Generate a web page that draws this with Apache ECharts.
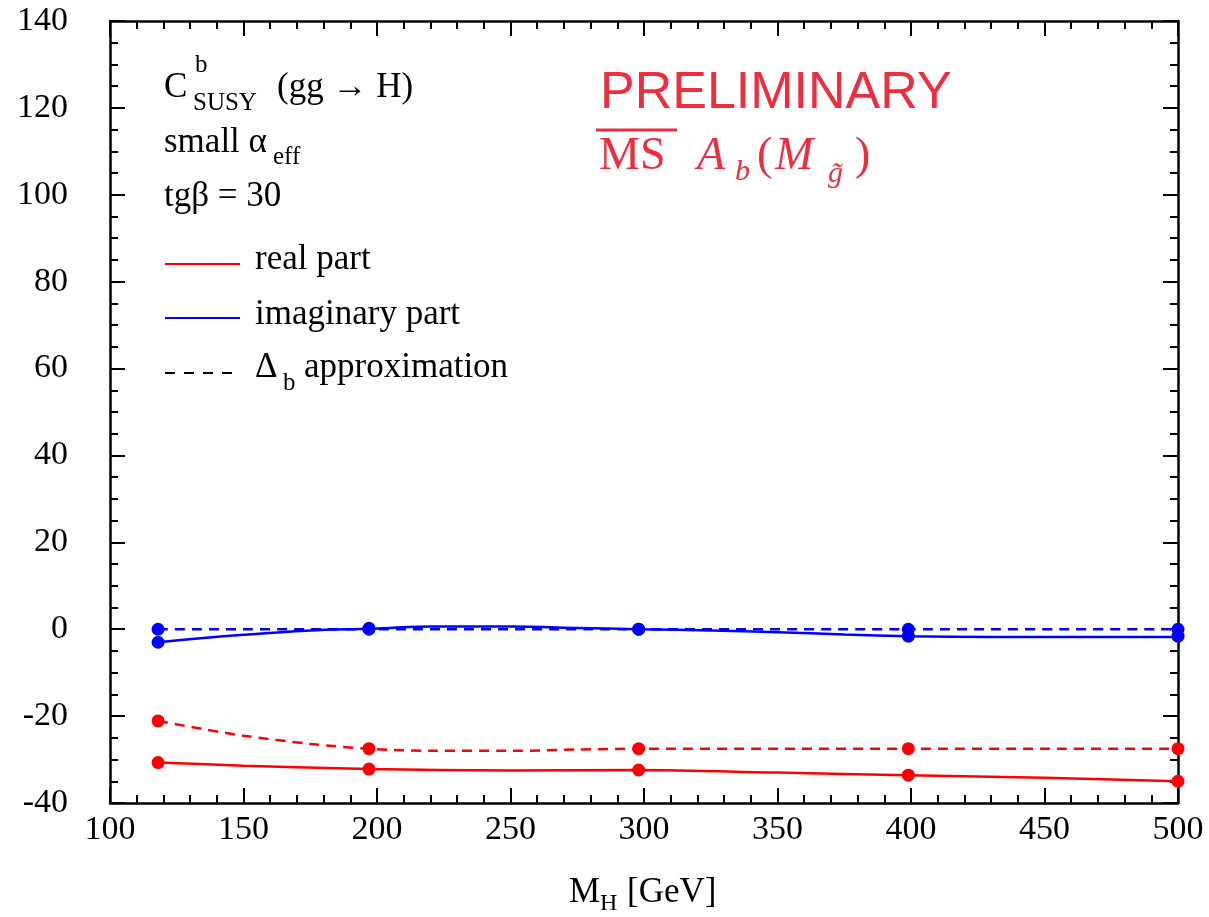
<!DOCTYPE html>
<html>
<head>
<meta charset="utf-8">
<script src="https://cdn.jsdelivr.net/npm/echarts@6/dist/echarts.min.js"></script>
<style>
  html, body { margin: 0; padding: 0; background: #fff; }
  #chart { width: 1209px; height: 917px; }
</style>
</head>
<body>
<div id="chart"></div>
<script>
// Higgs masses where points were computed
var mhPoints = [118, 197, 298, 399, 500];
// read-off values of the curves (M_H, value)
var realCurve = [[118, -30.7], [150, -31.4], [197, -32.2], [250, -32.5], [298, -32.4], [350, -33.0], [399, -33.6], [450, -34.2], [500, -35.0]];
var realDeltaCurve = [[118, -21.1], [135, -23.0], [150, -24.5], [175, -26.4], [197, -27.5], [220, -28.0], [250, -28.0], [275, -27.7], [298, -27.5], [350, -27.5], [399, -27.5], [450, -27.5], [500, -27.5]];
var imagCurve = [[118, -3.0], [135, -2.0], [150, -1.3], [175, -0.3], [197, 0.1], [220, 0.6], [250, 0.6], [275, 0.3], [298, 0.0], [325, -0.3], [350, -0.7], [375, -1.2], [399, -1.6], [430, -1.8], [460, -1.8], [500, -1.8]];
var imagDeltaCurve = [[118, 0], [197, 0], [298, 0], [399, 0], [500, 0]];
// values at the marked points
var realPts = [-30.7, -32.2, -32.4, -33.6, -35.0];
var realDeltaPts = [-21.1, -27.5, -27.5, -27.5, -27.5];
var imagPts = [-3.0, 0.2, 0.0, -1.6, -1.6];
var imagDeltaPts = [0, 0, 0, 0, 0];

var RED = '#ff0000', BLUE = '#0000ff', TXT = '#ee2e3e';
var SERIF = '"Liberation Serif", "DejaVu Serif", serif';

function pts(vals) {
  return mhPoints.map(function (m, i) { return [m, vals[i]]; });
}
function curve(name, data, color, type) {
  return {
    name: name, type: 'line', data: data, smooth: 0.3, showSymbol: false,
    lineStyle: { color: color, width: 2.5, type: type }, z: 3
  };
}
function marks(data, color) {
  return {
    type: 'scatter', data: pts(data), symbolSize: 13,
    itemStyle: { color: color, opacity: 1 }, z: 4
  };
}
function txt(text, x, y, size, color, extra) {
  var st = { text: text, x: x, y: y, font: (extra && extra.style ? extra.style + ' ' : '') + size + 'px ' + (extra && extra.family ? extra.family : SERIF), fill: color || '#000', verticalAlign: 'middle', align: 'left' };
  return { type: 'text', style: st, z: 10 };
}
function seg(x1, x2, y, color, dash, w) {
  return { type: 'line', shape: { x1: x1, y1: y, x2: x2, y2: y }, style: { stroke: color, lineWidth: w || 2, lineDash: dash || null }, z: 10 };
}

function axis(extra) {
  var tickStyle = { color: '#000', width: 2 };
  var a = {
    type: 'value',
    axisLine: { show: true, onZero: false, lineStyle: { color: '#000', width: 2.5 } },
    axisTick: { inside: true, length: 15, lineStyle: tickStyle },
    minorTick: { show: true, length: 8, lineStyle: tickStyle },
    axisLabel: { show: false },
    splitLine: { show: false }
  };
  for (var k in extra) a[k] = extra[k];
  a.minorTick.splitNumber = extra.minorSplit;
  return a;
}
var xLabel = { color: '#000', fontFamily: SERIF, fontSize: 34, margin: 10 };
var yLabel = { color: '#000', fontFamily: SERIF, fontSize: 34, margin: 42 };

var chart = echarts.init(document.getElementById('chart'));
chart.setOption({
  animation: false,
  grid: { left: 110, top: 21, right: 31, bottom: 114 },
  xAxis: [
    axis({ position: 'bottom', min: 100, max: 500, interval: 50, minorSplit: 5, axisLabel: xLabel }),
    axis({ position: 'top', min: 100, max: 500, interval: 50, minorSplit: 5 })
  ],
  yAxis: [
    axis({ position: 'left', min: -40, max: 140, interval: 20, minorSplit: 4, axisLabel: yLabel }),
    axis({ position: 'right', min: -40, max: 140, interval: 20, minorSplit: 4 })
  ],
  series: [
    curve('real part', realCurve, RED, 'solid'),
    curve('real part Δb', realDeltaCurve, RED, [10, 7]),
    curve('imaginary part', imagCurve, BLUE, 'solid'),
    curve('imaginary part Δb', imagDeltaCurve, BLUE, [10, 7]),
    marks(realPts, RED),
    marks(realDeltaPts, RED),
    marks(imagPts, BLUE),
    marks(imagDeltaPts, BLUE)
  ],
  graphic: [
    txt('C', 164, 88, 35),
    txt('b', 195, 65, 25),
    txt('SUSY', 193, 103, 25),
    txt('(gg → H)', 277, 88, 35),
    txt('small α', 164, 143, 35),
    txt('eff', 273, 157, 25),
    txt('tgβ = 30', 164, 197, 35),
    seg(165, 240, 264, RED),
    txt('real part', 255, 260, 35),
    seg(165, 240, 318, BLUE),
    txt('imaginary part', 255, 315, 35),
    seg(165, 240, 373, '#000', [10, 9]),
    txt('Δ', 255, 368, 35),
    txt('b', 283, 383, 25),
    txt('approximation', 304, 368, 35),
    txt('PRELIMINARY', 600, 94, 52, TXT, { family: '"Liberation Sans", Arial, sans-serif' }),
    seg(596, 677, 130, TXT, null, 3),
    txt('MS', 599, 157, 46, TXT),
    txt('A', 697, 157, 46, TXT, { style: 'italic' }),
    txt('b', 735, 172, 30, TXT, { style: 'italic' }),
    txt('(', 757, 157, 46, TXT),
    txt('M', 775, 157, 46, TXT, { style: 'italic' }),
    txt('g̃', 828, 174, 30, TXT, { style: 'italic' }),
    txt(')', 855, 157, 46, TXT),
    txt('M', 569, 893, 35),
    txt('H', 600, 904, 24),
    txt('[GeV]', 627, 893, 35)
  ]
});
</script>
</body>
</html>
